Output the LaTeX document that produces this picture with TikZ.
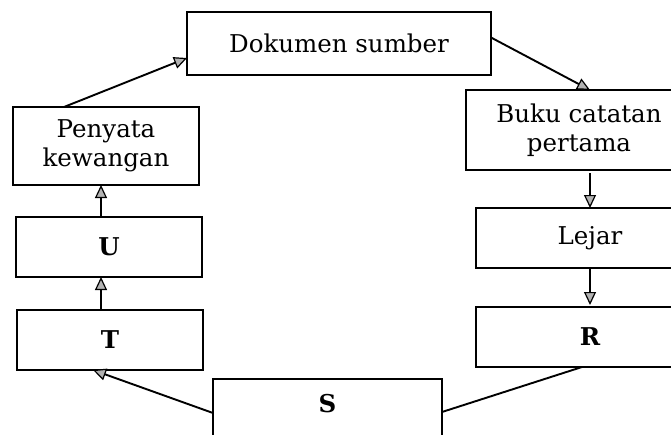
\documentclass[tikz,border=0pt]{standalone}
\usepackage{fontspec}
\setmainfont{DejaVu Serif}
\usetikzlibrary{arrows.meta}

\begin{document}
\begin{tikzpicture}[x=1pt, y=-1pt, line width=1.9pt,
    every node/.style = {rectangle, inner sep=0mm, outer sep=0mm,
                         font=\fontsize{24.5}{29}\selectfont, text=black,
                         align=center},
          box/.style  = {draw, fill=white},
          flow/.style = {-{Triangle[length=13pt, width=12pt, fill=gray!60,
                                    line width=1.2pt]}},]%
  \useasboundingbox (0,0) rectangle (671,434);
  % top
  \node [box, minimum width=304pt, minimum height=63pt]
                      (doc)   at (339,43.5) {Dokumen sumber};
  % right column
  \node [box, minimum width=226pt, minimum height=80pt]
                      (buku)  at (579,130)  {Buku catatan\\pertama};
  \node [box, minimum width=228pt, minimum height=60pt]
                      (lejar) at (590,238)  {Lejar};
  \node [box, minimum width=228pt, minimum height=60pt]
                      (r)     at (590,337)  {\textbf{R}};
  % bottom
  \node [box, minimum width=229pt, minimum height=90pt]
                      (s)     at (327.5,424) {};
  \node               (slbl)  at (327.5,404) {\textbf{S}};
  % left column
  \node [box, minimum width=186pt, minimum height=78pt]
                      (peny)  at (106,146)  {Penyata\\kewangan};
  \node [box, minimum width=186pt, minimum height=60pt]
                      (u)     at (109,247)  {\textbf{U}};
  \node [box, minimum width=186pt, minimum height=60pt]
                      (t)     at (110,340)  {\textbf{T}};
  % connectors
  \draw [flow] ([xshift=51pt]peny.north west) -- ([yshift=17pt]doc.south west);
  \draw [flow] ([yshift=6pt]doc.east) -- ([xshift=11pt]buku.north);
  \draw [flow] ([yshift=-3pt]lejar.north |- buku.south) -- (lejar.north);
  \draw [flow] (lejar.south) -- (r.south |- 0,305);
  \draw        ([yshift=-33pt]s.north east) -- ([xshift=-8pt]r.south);
  \draw [flow] ([yshift=-34pt]s.north west) -- ([xshift=-17pt]t.south);
  \draw [flow] ([xshift=-9pt]t.north) -- ([xshift=-8pt]u.south);
  \draw [flow] ([xshift=-8pt]u.north) -- ([xshift=-5pt]peny.south);
\end{tikzpicture}
\end{document}
